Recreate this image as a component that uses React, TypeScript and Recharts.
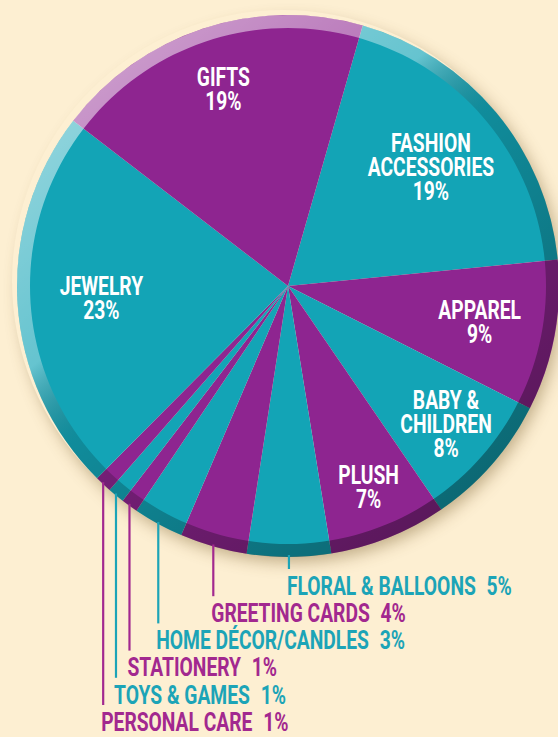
import { PieChart, Pie, Cell } from "recharts"

// slices listed clockwise, starting at the Gifts / Fashion boundary
const categories = [
  "FASHION\nACCESSORIES",
  "APPAREL",
  "BABY &\nCHILDREN",
  "PLUSH",
  "FLORAL & BALLOONS",
  "GREETING CARDS",
  "HOME DÉCOR/CANDLES",
  "STATIONERY",
  "TOYS & GAMES",
  "PERSONAL CARE",
  "JEWELRY",
  "GIFTS",
]
const shares = [19, 9, 8, 7, 5, 4, 3, 1, 1, 1, 23, 19]

const TEAL = "#13a4b6"
const PURPLE = "#8e2590"
const TEAL_TEXT = "#1ca4b7"
const PURPLE_TEXT = "#a2288f"
const BG = "#fdefd2"
const FONT = "Roboto, 'Liberation Sans', sans-serif"
const FS = 25
const SQUEEZE = 0.77

const CX = 283
const CY = 281
const R = 271
const RIM = 13
const RADIAN = Math.PI / 180

// how far from the centre each inside label sits
const labelRadius: Record<string, number> = {
  GIFTS: 207,
  "FASHION\nACCESSORIES": 186,
  JEWELRY: 187,
  APPAREL: 195,
  "BABY &\nCHILDREN": 210,
  PLUSH: 217,
}

const data = categories.map((name, i) => ({ name, value: shares[i] }))
const sliceColor = (i: number) => (i % 2 === 0 ? TEAL : PURPLE)
const smallOnes = data.filter((d) => d.value < 6).map((d) => d.name)

const renderLabel = (props: any) => {
  const { cx, cy, midAngle, outerRadius, index } = props
  const d = data[index]
  const cos = Math.cos(-midAngle * RADIAN)
  const sin = Math.sin(-midAngle * RADIAN)

  if (d.value >= 6) {
    const r = labelRadius[d.name] ?? 200
    const x = cx + r * cos
    const y = cy + r * sin
    const lines = [...d.name.split("\n"), `${d.value}%`]
    const pitch = 24
    const firstBase = y - ((lines.length - 1) * pitch) / 2 + FS * 0.355
    return (
      <text
        key={`l-${index}`}
        transform={`translate(${x},${firstBase}) scale(${SQUEEZE},1)`}
        fill="#fff"
        textAnchor="middle"
        style={{ fontFamily: FONT, fontWeight: 700, fontSize: FS }}
      >
        {lines.map((t, j) => (
          <tspan key={j} x={0} dy={j === 0 ? 0 : pitch}>
            {t}
          </tspan>
        ))}
      </text>
    )
  }

  const k = smallOnes.indexOf(d.name)
  const x = cx + outerRadius * cos
  const y0 = cy + outerRadius * sin
  const ty = 586 + k * 27.2
  const color = index % 2 === 0 ? TEAL_TEXT : PURPLE_TEXT
  return (
    <g key={`l-${index}`}>
      <line x1={x} y1={y0 - 2} x2={x} y2={ty - 17} stroke={color} strokeWidth={2.2} />
      <text
        transform={`translate(${x - 2},${ty + FS * 0.355}) scale(${SQUEEZE},1)`}
        fill={color}
        style={{ fontFamily: FONT, fontWeight: 700, fontSize: FS }}
      >
        {d.name}
        <tspan dx={14}>{d.value}%</tspan>
      </text>
    </g>
  )
}

export default function App() {
  return (
    <div style={{ position: "absolute", left: 0, top: 0, width: 558, height: 737, background: BG, overflow: "hidden" }}>
      <svg width={0} height={0} style={{ position: "absolute" }}>
        <defs>
          <linearGradient id="rimLight" x1="0.1" y1="0" x2="0.9" y2="1">
            <stop offset="0" stopColor="#fff" stopOpacity={0.6} />
            <stop offset="0.36" stopColor="#fff" stopOpacity={0.35} />
            <stop offset="0.48" stopColor="#000" stopOpacity={0.15} />
            <stop offset="1" stopColor="#000" stopOpacity={0.42} />
          </linearGradient>
        </defs>
      </svg>
      <div
        style={{
          position: "absolute",
          left: CX - R,
          top: CY - R,
          width: R * 2,
          height: R * 2,
          borderRadius: "50%",
          boxShadow: "8px 10px 16px rgba(110, 80, 30, 0.42)",
        }}
      />
      <div style={{ position: "absolute", left: 0, top: 0 }}>
        <PieChart width={558} height={737}>
          <Pie
            data={data}
            dataKey="value"
            nameKey="name"
            cx={CX}
            cy={CY}
            outerRadius={R}
            startAngle={74}
            endAngle={-286}
            stroke="none"
            isAnimationActive={false}
            label={false}
            labelLine={false}
          >
            {data.map((d, i) => (
              <Cell key={d.name} fill={sliceColor(i)} />
            ))}
          </Pie>
          <Pie
            data={[{ name: "rim", value: 1 }]}
            dataKey="value"
            cx={CX}
            cy={CY}
            innerRadius={R - RIM}
            outerRadius={R}
            startAngle={90}
            endAngle={-270}
            stroke="none"
            fill="url(#rimLight)"
            isAnimationActive={false}
          />
          <Pie
            data={data}
            dataKey="value"
            nameKey="name"
            cx={CX}
            cy={CY}
            outerRadius={R}
            startAngle={74}
            endAngle={-286}
            fill="none"
            stroke="none"
            isAnimationActive={false}
            label={renderLabel}
            labelLine={false}
          />
        </PieChart>
      </div>
    </div>
  )
}
